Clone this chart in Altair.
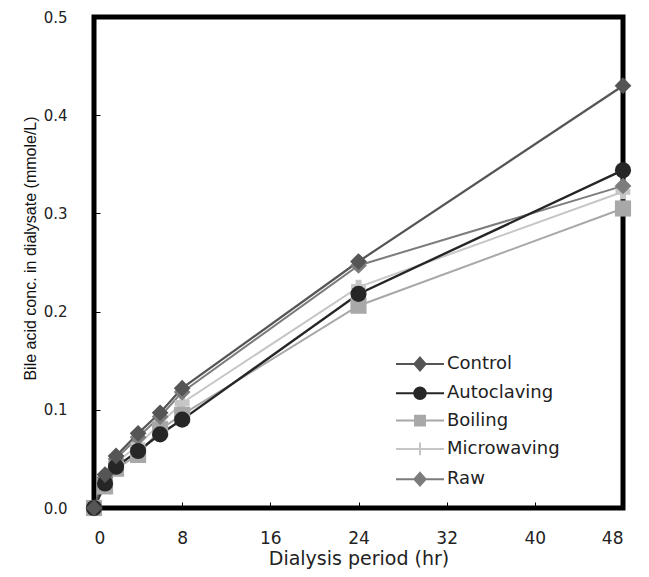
import altair as alt
import pandas as pd

# ---- data ----
hours = [0, 1, 2, 4, 6, 8, 24, 48]
control = [0.0, 0.034, 0.053, 0.076, 0.097, 0.122, 0.251, 0.430]
autoclaving = [0.0, 0.025, 0.042, 0.058, 0.075, 0.090, 0.218, 0.344]
boiling = [0.0, 0.022, 0.040, 0.054, 0.080, 0.095, 0.206, 0.305]
microwaving = [0.0, 0.028, 0.046, 0.064, 0.086, 0.107, 0.225, 0.322]
raw = [0.0, 0.031, 0.050, 0.072, 0.093, 0.118, 0.247, 0.328]

names = ["Control", "Autoclaving", "Boiling", "Microwaving", "Raw"]
series = [control, autoclaving, boiling, microwaving, raw]
x_ticks = [0, 8, 16, 24, 32, 40, 48]
y_ticks = [0.0, 0.1, 0.2, 0.3, 0.4, 0.5]

# ---- styles ----
colors = ["#555555", "#262626", "#a8a8a8", "#c6c6c6", "#7c7c7c"]
shapes = ["diamond", "circle", "square", "cross", "diamond"]
sizes = [280, 260, 260, 220, 280]
widths = [2.2, 2.4, 2.0, 2.0, 2.0]
legend_paths = [
    "M-3,0H3M0,-0.8L0.7,0L0,0.8L-0.7,0Z",
    "M-3,0H3M-0.72,0A0.72,0.72,0,1,1,0.72,0A0.72,0.72,0,1,1,-0.72,0Z",
    "M-3,0H3M-0.62,-0.62H0.62V0.62H-0.62Z",
    "M-3,0H3M0,-0.8V0.8",
    "M-3,0H3M0,-0.8L0.7,0L0,0.8L-0.7,0Z",
]

rows = []
for n, vals in zip(names, series):
    for t, v in zip(hours, vals):
        rows.append({"Series": n, "t": t, "v": v})
df = pd.DataFrame(rows)

x_enc = alt.X(
    "t:Q",
    scale=alt.Scale(domain=[0, 48], nice=False),
    axis=alt.Axis(
        values=x_ticks,
        title="Dialysis period (hr)",
        tickSize=6,
        offset=-6,
        domain=False,
        grid=False,
        tickColor="black",
        labelPadding=22,
        labelFont="DejaVu Sans",
        labelFontSize=17,
        labelColor="#222222",
        titleFont="DejaVu Sans",
        titleFontSize=19,
        titleFontWeight="normal",
        titleColor="#222222",
        titlePadding=3,
    ),
)
y_enc = alt.Y(
    "v:Q",
    scale=alt.Scale(domain=[0, 0.5], nice=False),
    axis=alt.Axis(
        values=y_ticks,
        format=".1f",
        title="Bile acid conc. in dialysate (mmole/L)",
        tickSize=6,
        offset=-6,
        domain=False,
        grid=False,
        tickColor="black",
        labelPadding=27,
        labelFont="DejaVu Sans",
        labelFontSize=15,
        labelColor="#222222",
        titleFont="Liberation Sans",
        titleFontSize=16,
        titleFontWeight="normal",
        titleColor="#111111",
        titlePadding=5,
        titleY=231,
    ),
)

layers = []
order = [3, 2, 4, 1, 0]
for i in order:
    base = alt.Chart(df).transform_filter(alt.datum.Series == names[i])
    layers.append(
        base.mark_line(color=colors[i], strokeWidth=widths[i]).encode(x=x_enc, y=y_enc)
    )
for i in order:
    base = alt.Chart(df).transform_filter(alt.datum.Series == names[i])
    layers.append(
        base.mark_point(
            shape=shapes[i], filled=True, size=sizes[i], color=colors[i], opacity=1
        ).encode(x=x_enc, y=y_enc)
    )

leg = alt.Legend(
    title=None,
    orient="none",
    legendX=317,
    legendY=338,
    symbolSize=256,
    symbolStrokeWidth=2,
    labelFont="DejaVu Sans",
    labelFontSize=18,
    labelColor="#222222",
    labelOffset=18,
    rowPadding=8.3,
    padding=0,
)
cscale = alt.Scale(domain=names, range=colors)
legend_layer = (
    alt.Chart(df)
    .transform_filter("datum.v < 0")
    .mark_point(filled=True, opacity=1)
    .encode(
        x=x_enc,
        y=y_enc,
        fill=alt.Fill("Series:N", scale=cscale, legend=leg),
        stroke=alt.Stroke("Series:N", scale=cscale, legend=leg),
        shape=alt.Shape("Series:N", scale=alt.Scale(domain=names, range=legend_paths), legend=leg),
    )
)
layers.append(legend_layer)

chart = (
    alt.layer(*layers)
    .properties(
        width=529,
        height=491,
        autosize=alt.AutoSizeParams(type="none"),
        padding={"left": 86, "top": 9, "right": 18, "bottom": 61},
        background="white",
    )
    .configure_view(stroke="black", strokeWidth=5)
)

chart.save("out.html", embed_options={"renderer": "svg", "actions": False})
